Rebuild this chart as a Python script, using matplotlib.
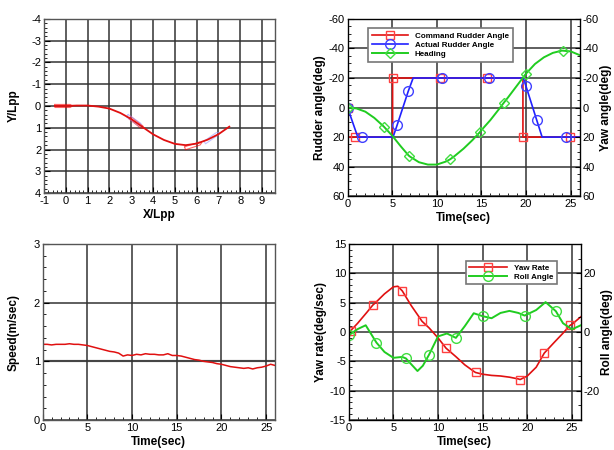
import numpy as np
import matplotlib
matplotlib.use('Agg')
import matplotlib.pyplot as plt
from matplotlib.ticker import MultipleLocator, FixedLocator

plt.rcParams['font.family'] = ['Liberation Sans', 'DejaVu Sans']
plt.rcParams['font.size'] = 8
plt.rcParams['axes.unicode_minus'] = False

# --- trajectory (X/Lpp, Y/Lpp)
traj_x = [-0.5, 0.0, 0.5, 1.0, 1.5, 2.0, 2.5, 3.0, 3.5, 4.0, 4.5, 5.0, 5.5, 6.0, 6.5, 7.0, 7.5]
traj_y = [0.0, 0.0, -0.02, -0.02, 0.03, 0.12, 0.32, 0.6, 0.95, 1.3, 1.56, 1.74, 1.8, 1.73, 1.55, 1.3, 0.95]
# ship outlines along the path (x, y, heading deg, colour)
ship_x = [-0.1, 3.25, 5.85, 3.15, 6.7]
ship_y = [0.0, 0.78, 1.82, 0.68, 1.45]
ship_psi = [0, 38, -18, 35, -35]
ship_col = ['red', 'red', 'red', '#9999ff', '#9999ff']

# --- rudder / heading
cmd_t = [0, 0.05, 0.8, 5.05, 5.05, 10.4, 15.65, 19.65, 19.65, 24.95, 26]
cmd_v = [0, 20, 20, 20, -20, -20, -20, -20, 20, 20, 20]
cmd_mk = [0, 2, 4, 5, 6, 8, 9]
act_t = [0, 1.15, 1.6, 5.1, 5.55, 6.8, 7.35, 10.6, 15.8, 19.7, 20.0, 21.2, 21.8, 24.5, 26]
act_v = [0, 20, 20, 20, 12, -11, -20, -20, -20, -20, -14.3, 8.6, 20, 20, 20]
act_mk = [0, 2, 4, 5, 7, 8, 10, 11, 13]
head_t = [0, 1, 2, 3, 4, 4.1, 5, 6, 6.85, 7, 8, 9, 10, 11, 11.5, 12, 13, 14, 14.8, 15, 16, 17,
          17.5, 18, 19, 20, 21, 22, 23, 24, 24.1, 25, 26]
head_v = [0, 0.6, 2.8, 7, 12.5, 13.1, 19, 26.5, 32.5, 33.2, 37, 38.6, 38.6, 36.6, 35, 32.8, 27.8,
          22, 16.8, 15.3, 8.5, 0.8, -3.2, -7, -15, -23, -29.5, -34, -37, -38.5, -38.5, -38, -35.5]
head_mk = [0, 5, 8, 14, 18, 22, 25, 30]

# --- speed
speed_t = [i * 0.5 for i in range(53)]
speed_v = [1.29, 1.29, 1.28, 1.29, 1.29, 1.29, 1.30, 1.29, 1.29, 1.28, 1.27, 1.25, 1.23, 1.21,
           1.19, 1.17, 1.16, 1.14, 1.09, 1.11, 1.10, 1.12, 1.11, 1.13, 1.12, 1.12, 1.11, 1.11,
           1.13, 1.10, 1.10, 1.09, 1.07, 1.05, 1.03, 1.02, 1.00, 0.99, 0.98, 0.96, 0.95, 0.93,
           0.91, 0.90, 0.89, 0.88, 0.89, 0.87, 0.89, 0.90, 0.92, 0.95, 0.93]

# --- yaw rate / roll
yaw_t = [0, 0.2, 1, 2, 2.7, 3, 4, 5, 5.5, 6, 7, 8, 8.2, 9, 10, 10.9, 12, 13, 14, 14.2, 15, 16, 17,
         18, 19, 19.2, 20, 21, 21.9, 23, 24, 24.8, 25, 26]
yaw_v = [0, 0.2, 1.5, 3.3, 4.6, 5.0, 6.5, 7.7, 7.8, 7.0, 4.5, 2.3, 1.84, 0.7, -1.0, -2.76, -4.2,
         -5.6, -6.7, -6.9, -7.2, -7.4, -7.5, -7.7, -8.0, -8.1, -7.5, -6.0, -3.6, -1.8, -0.2, 1.15,
         1.3, 2.6]
yaw_mk = [1, 4, 9, 12, 15, 19, 25, 28, 31]
roll_t = [0, 1, 1.9, 3.1, 4, 5, 6, 6.4, 7, 7.7, 8.3, 9, 10, 11, 12, 13, 14, 15, 16, 17, 18, 19,
          19.7, 21, 22.05, 23.2, 24, 25, 26]
roll_v = [-1.1, 1.0, 2.3, -3.6, -6.8, -8.8, -8.5, -9.0, -11.0, -13.3, -11.5, -7.7, -1.5, -0.5,
          -2.0, 2.0, 6.4, 5.4, 4.7, 6.5, 7.2, 6.5, 5.6, 7.5, 10.2, 7.1, 3.0, 0.9, 2.3]
roll_mk = [0, 3, 7, 11, 14, 17, 22, 25]

GRID = dict(color='#333333', linewidth=1.1)
ms = 6
LAB = dict(fontweight='bold', fontsize=8.5)


def style(ax):
    ax.grid(True, which='major', **GRID)
    ax.tick_params(which='both', direction='in', labelsize=8, pad=2)
    ax.tick_params(which='minor', length=2.5)
    ax.tick_params(which='major', length=4)
    for s in ax.spines.values():
        s.set_color('#555555')
        s.set_linewidth(1.0)


fig = plt.figure(figsize=(6.14, 4.5), dpi=100)
ax1 = fig.add_axes([0.0717, 0.571, 0.3763, 0.387])
ax2 = fig.add_axes([0.566, 0.564, 0.378, 0.394])
ax3 = fig.add_axes([0.0695, 0.0667, 0.3785, 0.391])
ax4 = fig.add_axes([0.568, 0.0667, 0.378, 0.391])

# ---------- trajectory
for x, y, psi, c in zip(ship_x, ship_y, ship_psi, ship_col):
    L, B = 0.8, 0.14
    px = np.array([-L / 2, L / 2 - 0.1, L / 2, L / 2 - 0.1, -L / 2, -L / 2])
    py = np.array([-B / 2, -B / 2, 0, B / 2, B / 2, -B / 2])
    a = np.radians(psi)
    ax1.plot(x + px * np.cos(a) - py * np.sin(a), y + px * np.sin(a) + py * np.cos(a),
             color=c, lw=0.8, alpha=0.6)
ax1.plot(traj_x, traj_y, color='#e01010', lw=1.3)
ax1.set_xlim(-1, 9.6)
ax1.set_ylim(4, -4)
ax1.xaxis.set_major_locator(MultipleLocator(1))
ax1.yaxis.set_major_locator(MultipleLocator(1))
ax1.xaxis.set_minor_locator(MultipleLocator(0.2))
ax1.yaxis.set_minor_locator(MultipleLocator(0.2))
ax1.set_xlabel('X/Lpp', labelpad=2, **LAB)
ax1.set_ylabel('Y/Lpp', labelpad=8, **LAB)
style(ax1)

# ---------- rudder / heading
ax2.plot(cmd_t, cmd_v, color='#e01010', lw=1.2, marker='s', markevery=cmd_mk, ms=ms,
         mfc='none', mec='#ff4040', label='Command Rudder Angle')
ax2.plot(act_t, act_v, color='#2020ff', lw=1.2, marker='o', markevery=act_mk, ms=ms + 1,
         mfc='none', mec='#4040ff', label='Actual Rudder Angle')
ax2.plot(head_t, head_v, color='#20cc20', lw=1.4, marker='D', markevery=head_mk, ms=ms - 1,
         mfc='none', mec='#40dd40', label='Heading')
ax2.set_xlim(0, 26)
ax2.set_ylim(60, -60)
ax2.xaxis.set_major_locator(MultipleLocator(5))
ax2.xaxis.set_minor_locator(MultipleLocator(1))
ax2.yaxis.set_major_locator(MultipleLocator(20))
ax2.yaxis.set_minor_locator(MultipleLocator(5))
ax2.set_xlabel('Time(sec)', labelpad=2, **LAB)
ax2.set_ylabel('Rudder angle(deg)', labelpad=2, **LAB)
style(ax2)
leg = ax2.legend(loc='upper left', bbox_to_anchor=(0.07, 0.97), fancybox=False,
                 edgecolor='#777777', framealpha=1, handlelength=4.5,
                 prop={'weight': 'bold', 'size': 5.8}, borderpad=0.5, labelspacing=0.15)
leg.get_frame().set_linewidth(1.2)
ax2r = ax2.twinx()
ax2r.set_ylim(60, -60)
ax2r.yaxis.set_major_locator(MultipleLocator(20))
ax2r.yaxis.set_minor_locator(MultipleLocator(5))
ax2r.tick_params(which='both', direction='in', labelsize=8, pad=2)
ax2r.tick_params(which='minor', length=2.5)
ax2r.set_ylabel('Yaw angle(deg)', labelpad=1, **LAB)

# ---------- speed
ax3.plot(speed_t, speed_v, color='#e01010', lw=1.1)
ax3.set_xlim(0, 26)
ax3.set_ylim(0, 3)
ax3.xaxis.set_major_locator(MultipleLocator(5))
ax3.xaxis.set_minor_locator(MultipleLocator(1))
ax3.yaxis.set_major_locator(MultipleLocator(1))
ax3.yaxis.set_minor_locator(MultipleLocator(0.2))
ax3.set_xlabel('Time(sec)', labelpad=2, **LAB)
ax3.set_ylabel('Speed(m/sec)', labelpad=10, **LAB)
style(ax3)
ax3.axhline(1, color='#888888', lw=1.6, zorder=1.5)

# ---------- yaw rate / roll
ax4.plot(yaw_t, yaw_v, color='#e01010', lw=1.2, marker='s', markevery=yaw_mk, ms=ms,
         mfc='none', mec='#ff4040', label='Yaw Rate')
ax4.set_xlim(0, 26)
ax4.set_ylim(-15, 15)
ax4.xaxis.set_major_locator(MultipleLocator(5))
ax4.xaxis.set_minor_locator(MultipleLocator(1))
ax4.yaxis.set_major_locator(MultipleLocator(5))
ax4.yaxis.set_minor_locator(MultipleLocator(1))
ax4.set_xlabel('Time(sec)', labelpad=2, **LAB)
ax4.set_ylabel('Yaw rate(deg/sec)', labelpad=2, **LAB)
style(ax4)
ax4r = ax4.twinx()
ax4r.plot(roll_t, roll_v, color='#20cc20', lw=1.4, marker='o', markevery=roll_mk, ms=ms + 1,
          mfc='none', mec='#40dd40', label='Roll Angle')
ax4r.set_ylim(-30, 30)
ax4r.yaxis.set_major_locator(FixedLocator([-20, 0, 20]))
ax4r.yaxis.set_minor_locator(MultipleLocator(5))
ax4r.tick_params(which='both', direction='in', labelsize=8, pad=2)
ax4r.tick_params(which='minor', length=2.5)
ax4r.set_ylabel('Roll angle(deg)', labelpad=1, **LAB)
h1, l1 = ax4.get_legend_handles_labels()
h2, l2 = ax4r.get_legend_handles_labels()
leg4 = ax4r.legend(h1 + h2, l1 + l2, loc='upper left', bbox_to_anchor=(0.486, 0.925),
                   fancybox=False, edgecolor='#777777', framealpha=1, handlelength=4.8,
                   prop={'weight': 'bold', 'size': 5.8}, borderpad=0.4, labelspacing=0.1)
leg4.get_frame().set_linewidth(1.2)

fig.savefig('out.png', dpi=100)
